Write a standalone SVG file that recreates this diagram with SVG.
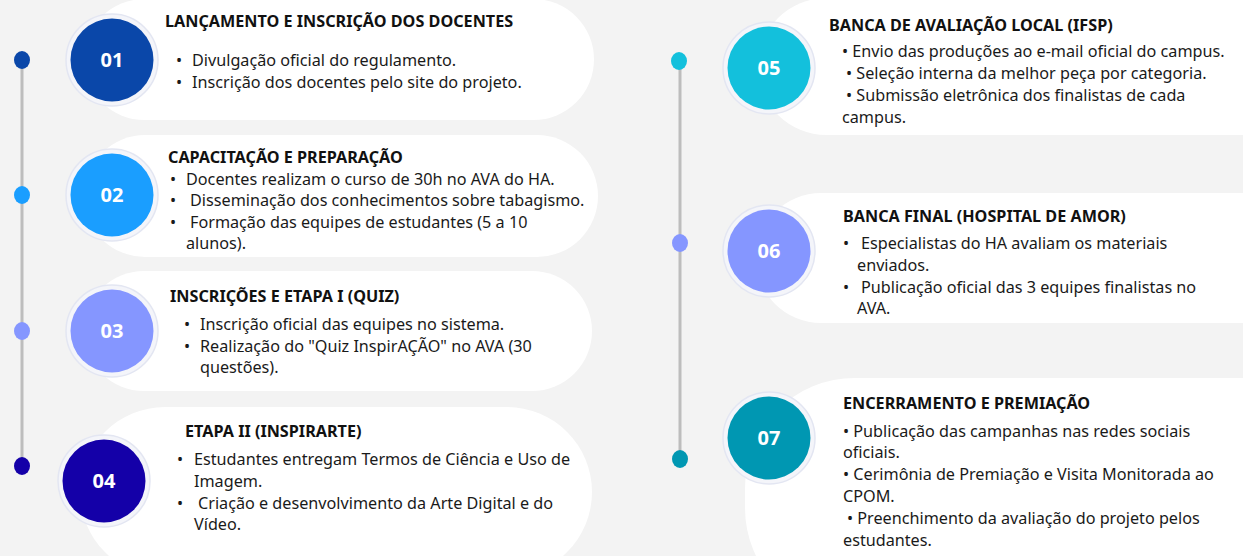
<svg xmlns="http://www.w3.org/2000/svg" width="1243" height="556" viewBox="0 0 1243 556">
<style>
.bg{fill:#f3f3f3}
.pill{fill:#ffffff}
.ring{fill:#f4f5fa;stroke:#e3e6f2;stroke-width:1.5}
.num{font-family:"Open Sans","Noto Sans",sans-serif;font-weight:700;font-size:20px;fill:#ffffff;text-anchor:middle}
.hd{font-family:"Noto Sans","Open Sans",sans-serif;font-weight:700;font-size:16.2px;fill:#111111}
.tx{font-family:"Noto Sans","Open Sans",sans-serif;font-size:16.2px;fill:#1a1a1a}
.line{stroke:#bdbdbd;stroke-width:3;fill:none}
</style>
<rect class="bg" x="0" y="0" width="1243" height="556"/>
<g id="connectors">
<line class="line" x1="22" y1="60" x2="22" y2="466"/>
<line class="line" x1="680" y1="60" x2="680" y2="458"/>
</g>
<g id="step01">
<rect class="pill" x="84" y="-1" width="510" height="121" rx="60.5"/>
<ellipse cx="22" cy="60" rx="8" ry="9" fill="#0a47a9"/>
<circle class="ring" cx="112" cy="60" r="46"/>
<circle cx="112" cy="60" r="41.5" fill="#0a47a9"/>
<text class="num" x="112" y="67">01</text>
<text class="hd" x="165" y="27">LANÇAMENTO E INSCRIÇÃO DOS DOCENTES</text>
<text class="tx" x="176" y="66">•</text><text class="tx" x="192" y="66">Divulgação oficial do regulamento.</text>
<text class="tx" x="176" y="88">•</text><text class="tx" x="192" y="88">Inscrição dos docentes pelo site do projeto.</text>
</g>
<g id="step02">
<rect class="pill" x="84" y="135" width="514" height="122" rx="61"/>
<ellipse cx="22" cy="195" rx="8" ry="9" fill="#1a9eff"/>
<circle class="ring" cx="112" cy="195" r="46"/>
<circle cx="112" cy="195" r="41.5" fill="#1a9eff"/>
<text class="num" x="112" y="202">02</text>
<text class="hd" x="168" y="163">CAPACITAÇÃO E PREPARAÇÃO</text>
<text class="tx" x="170" y="185">•</text><text class="tx" x="186" y="185">Docentes realizam o curso de 30h no AVA do HA.</text>
<text class="tx" x="170" y="206">•</text><text class="tx" x="190" y="206">Disseminação dos conhecimentos sobre tabagismo.</text>
<text class="tx" x="170" y="228">•</text><text class="tx" x="190" y="228">Formação das equipes de estudantes (5 a 10</text>
<text class="tx" x="186" y="249">alunos).</text>
</g>
<g id="step03">
<rect class="pill" x="84" y="271" width="508" height="120" rx="60"/>
<ellipse cx="22" cy="331" rx="8" ry="9" fill="#8596ff"/>
<circle class="ring" cx="112" cy="331" r="46"/>
<circle cx="112" cy="331" r="41.5" fill="#8596ff"/>
<text class="num" x="112" y="338">03</text>
<text class="hd" x="170" y="302">INSCRIÇÕES E ETAPA I (QUIZ)</text>
<text class="tx" x="184" y="330">•</text><text class="tx" x="200" y="330">Inscrição oficial das equipes no sistema.</text>
<text class="tx" x="184" y="352">•</text><text class="tx" x="200" y="352">Realização do "Quiz InspirAÇÃO" no AVA (30</text>
<text class="tx" x="200" y="373">questões).</text>
</g>
<g id="step04">
<rect class="pill" x="80" y="407" width="512" height="170" rx="85"/>
<ellipse cx="22" cy="466" rx="8" ry="9" fill="#1400a8"/>
<circle class="ring" cx="104" cy="481" r="46"/>
<circle cx="104" cy="481" r="41.5" fill="#1400a8"/>
<text class="num" x="104" y="488">04</text>
<text class="hd" x="185" y="437">ETAPA II (INSPIRARTE)</text>
<text class="tx" x="177" y="465">•</text><text class="tx" x="194" y="465">Estudantes entregam Termos de Ciência e Uso de</text>
<text class="tx" x="194" y="487">Imagem.</text>
<text class="tx" x="177" y="509">•</text><text class="tx" x="198" y="509">Criação e desenvolvimento da Arte Digital e do</text>
<text class="tx" x="194" y="530">Vídeo.</text>
</g>
<g id="step05">
<rect class="pill" x="758" y="-2" width="560" height="137" rx="68.5"/>
<ellipse cx="679" cy="61" rx="8" ry="9" fill="#13c0dc"/>
<circle class="ring" cx="769" cy="68" r="46"/>
<circle cx="769" cy="68" r="41.5" fill="#13c0dc"/>
<text class="num" x="769" y="75">05</text>
<text class="hd" x="829" y="31">BANCA DE AVALIAÇÃO LOCAL (IFSP)</text>
<text class="tx" x="842" y="57">• Envio das produções ao e-mail oficial do campus.</text>
<text class="tx" x="846" y="79">• Seleção interna da melhor peça por categoria.</text>
<text class="tx" x="846" y="101">• Submissão eletrônica dos finalistas de cada</text>
<text class="tx" x="842" y="123">campus.</text>
</g>
<g id="step06">
<rect class="pill" x="756" y="193" width="560" height="130" rx="65"/>
<ellipse cx="680" cy="243" rx="8" ry="9" fill="#8596ff"/>
<circle class="ring" cx="769" cy="251" r="46"/>
<circle cx="769" cy="251" r="41.5" fill="#8596ff"/>
<text class="num" x="769" y="258">06</text>
<text class="hd" x="843" y="222">BANCA FINAL (HOSPITAL DE AMOR)</text>
<text class="tx" x="843" y="249">•</text><text class="tx" x="861" y="249">Especialistas do HA avaliam os materiais</text>
<text class="tx" x="857" y="271">enviados.</text>
<text class="tx" x="843" y="293">•</text><text class="tx" x="861" y="293">Publicação oficial das 3 equipes finalistas no</text>
<text class="tx" x="857" y="314">AVA.</text>
</g>
<g id="step07">
<rect class="pill" x="745" y="378" width="620" height="240" rx="110"/>
<ellipse cx="680" cy="459" rx="8" ry="9" fill="#0097b2"/>
<circle class="ring" cx="769" cy="438" r="46"/>
<circle cx="769" cy="438" r="41.5" fill="#0097b2"/>
<text class="num" x="769" y="445">07</text>
<text class="hd" x="843" y="409">ENCERRAMENTO E PREMIAÇÃO</text>
<text class="tx" x="843" y="437">• Publicação das campanhas nas redes sociais</text>
<text class="tx" x="843" y="458">oficiais.</text>
<text class="tx" x="843" y="480">• Cerimônia de Premiação e Visita Monitorada ao</text>
<text class="tx" x="843" y="502">CPOM.</text>
<text class="tx" x="847" y="524">• Preenchimento da avaliação do projeto pelos</text>
<text class="tx" x="843" y="546">estudantes.</text>
</g>
</svg>
